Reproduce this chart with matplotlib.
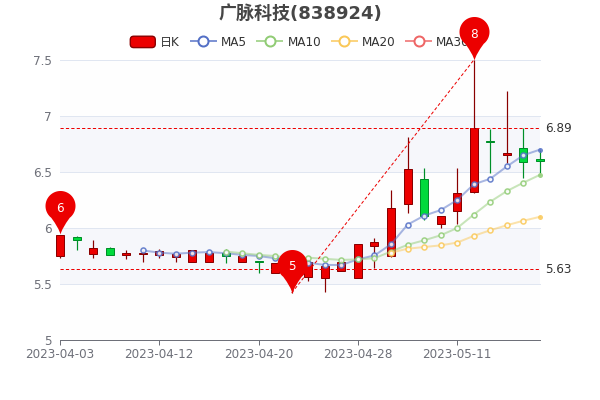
import numpy as np
import matplotlib
matplotlib.use("Agg")
import matplotlib.pyplot as plt
from matplotlib.lines import Line2D
from matplotlib.patches import Patch, FancyBboxPatch
from matplotlib.path import Path
from matplotlib.legend_handler import HandlerPatch

FONT = ['DejaVu Sans', 'Noto Sans CJK SC']
plt.rcParams['font.family'] = FONT

title = "广脉科技(838924)"
dates = ["2023-04-03", "2023-04-04", "2023-04-06", "2023-04-07", "2023-04-10", "2023-04-11",
         "2023-04-12", "2023-04-13", "2023-04-14", "2023-04-17", "2023-04-18", "2023-04-19",
         "2023-04-20", "2023-04-21", "2023-04-24", "2023-04-25", "2023-04-26", "2023-04-27",
         "2023-04-28", "2023-05-04", "2023-05-05", "2023-05-08", "2023-05-09", "2023-05-10",
         "2023-05-11", "2023-05-12", "2023-05-15", "2023-05-16", "2023-05-17", "2023-05-18"]
tick_idx = [0, 6, 12, 18, 24]
y_ticks = [5, 5.5, 6, 6.5, 7, 7.5]
y_labels = ["5", "5.5", "6", "6.5", "7", "7.5"]

opens = [5.75, 5.92, 5.77, 5.825, 5.755, 5.77, 5.755, 5.74, 5.70, 5.70,
         5.775, 5.70, 5.705, 5.60, 5.62, 5.56, 5.55, 5.62, 5.55, 5.84,
         5.75, 6.21, 6.44, 6.04, 6.15, 6.32, 6.78, 6.655, 6.71, 6.62]
closes = [5.94, 5.89, 5.82, 5.76, 5.775, 5.78, 5.795, 5.77, 5.80, 5.78,
          5.75, 5.75, 5.70, 5.69, 5.68, 5.70, 5.66, 5.70, 5.855, 5.875,
          6.18, 6.53, 6.11, 6.11, 6.31, 6.89, 6.77, 6.67, 6.59, 6.60]
lows = [5.73, 5.80, 5.73, 5.76, 5.72, 5.70, 5.73, 5.70, 5.70, 5.70,
        5.69, 5.70, 5.60, 5.60, 5.42, 5.53, 5.43, 5.62, 5.55, 5.64,
        5.74, 6.13, 6.07, 6.00, 6.04, 6.31, 6.49, 6.58, 6.45, 6.49]
highs = [5.94, 5.93, 5.89, 5.83, 5.80, 5.80, 5.81, 5.79, 5.80, 5.78,
         5.81, 5.77, 5.705, 5.69, 5.70, 5.72, 5.67, 5.71, 5.86, 5.91,
         6.34, 6.81, 6.54, 6.11, 6.54, 7.50, 6.88, 7.22, 6.89, 6.70]

ma5 = [None] * 5 + [5.80, 5.78, 5.77, 5.78, 5.785, 5.775, 5.76, 5.75, 5.73, 5.70,
                    5.69, 5.67, 5.67, 5.72, 5.755, 5.855, 6.03, 6.11, 6.16, 6.25,
                    6.39, 6.44, 6.55, 6.65, 6.70]
ma10 = [None] * 10 + [5.79, 5.775, 5.76, 5.75, 5.73, 5.735, 5.725, 5.715, 5.72, 5.73,
                      5.79, 5.85, 5.89, 5.935, 6.00, 6.12, 6.235, 6.33, 6.405, 6.475]
ma20 = [None] * 20 + [5.78, 5.815, 5.83, 5.845, 5.87, 5.93, 5.98, 6.025, 6.065, 6.10]
ma_names = ["MA5", "MA10", "MA20", "MA30"]
ma_colors = ["#5470C6", "#91CC75", "#FAC858", "#EE6666"]

pin_idx = [0, 14, 25]
pin_vals = [5.945, 5.42, 7.5]
pin_text = ["6", "5", "8"]
ref_vals = [6.89, 5.63]

UP, UP_E, DN, DN_E = "#EC0000", "#8A0000", "#00DA3C", "#008F28"
AXC = "#6E7079"
PX = 72 / 100


def px(v):
    return v * PX


fig = plt.figure(figsize=(6, 4), dpi=100, facecolor="white")
ax = fig.add_axes([60 / 600, 60 / 400, 480 / 600, 280 / 400])
x = np.arange(len(dates))
ax.set_xlim(0, len(dates) - 1)
ax.set_ylim(5, 7.5)

# split areas and split lines
for i in range(len(y_ticks) - 1):
    c = (210 / 255, 219 / 255, 238 / 255, 0.2) if i % 2 else (250 / 255, 250 / 255, 250 / 255, 0.2)
    ax.axhspan(y_ticks[i], y_ticks[i + 1], color=c, lw=0, zorder=0)
for v in y_ticks[1:]:
    ax.axhline(v, color="#E0E6F1", lw=px(1), zorder=1, clip_on=False)

# candles
o, c_, l, h = map(np.array, (opens, closes, lows, highs))
up = c_ >= o
fill = [UP if u else DN for u in up]
edge = [UP_E if u else DN_E for u in up]
ax.vlines(x, l, h, colors=edge, lw=px(1.2), zorder=3, clip_on=False)
ax.bar(x, np.abs(c_ - o), bottom=np.minimum(o, c_), width=0.485, color=fill,
       edgecolor=edge, linewidth=px(1), zorder=4, clip_on=False)

# moving averages
for vals, col in zip((ma5, ma10, ma20), ma_colors):
    y = np.array([np.nan if v is None else v for v in vals], dtype=float)
    rgba = matplotlib.colors.to_rgba(col, 0.5)
    ax.plot(x, y, color=rgba, lw=px(2), zorder=5, solid_capstyle="round", clip_on=False)
    ax.plot(x[:-1], y[:-1], ls="none", marker="o", ms=px(5), mfc="white", mec=col, mew=px(1.6),
            alpha=0.85, zorder=6, clip_on=False)
    ax.plot(x[-1:], y[-1:], ls="none", marker="o", ms=px(5), mfc=col, mec="none",
            alpha=0.85, zorder=6, clip_on=False)

# reference lines
dash = (0, (3.2, 2.2))
for v in ref_vals:
    ax.axhline(v, color=UP, lw=px(1), ls=dash, zorder=7)
    ax.annotate(f"{v:.2f}", (1, v), xycoords=("axes fraction", "data"), xytext=(px(5), 0),
                textcoords="offset points", va="center", ha="left", fontsize=px(12), color="#333333")
ax.plot([pin_idx[1], pin_idx[2]], [pin_vals[1], pin_vals[2]], color=UP, lw=px(1), ls=dash,
        zorder=7, clip_on=False)

# pin markers
R, CY, TOP = 15.0, 28.5, 43.5
theta = np.linspace(np.radians(-52), np.radians(232), 50)
arc = np.c_[R * np.cos(theta), CY + R * np.sin(theta)]
verts = [(0, 0), (1.6, 6.5), arc[0]] + [tuple(p) for p in arc[1:]] + [(-1.6, 6.5), (0, 0), (0, 0)]
codes = [Path.MOVETO, Path.CURVE3, Path.CURVE3] + [Path.LINETO] * (len(arc) - 1) + [Path.CURVE3, Path.CURVE3, Path.CLOSEPOLY]
pin = Path(verts, codes)
ax.plot(pin_idx, pin_vals, ls="none", marker=pin, ms=px(2 * TOP), mfc=UP, mec="none",
        zorder=10, clip_on=False)
for i, v, t in zip(pin_idx, pin_vals, pin_text):
    ax.annotate(t, (i, v), xytext=(0, px(26)), textcoords="offset points", ha="center",
                va="center", color="white", fontsize=px(12), zorder=11, annotation_clip=False)

# axes
for s in ("top", "right", "left"):
    ax.spines[s].set_visible(False)
ax.spines["bottom"].set_color(AXC)
ax.spines["bottom"].set_linewidth(px(1))
ax.spines["bottom"].set_zorder(8)
ax.set_xticks(tick_idx, [dates[i] for i in tick_idx])
ax.set_yticks(y_ticks, y_labels)
ax.tick_params(axis="x", length=px(5), width=px(1), color=AXC, labelcolor=AXC,
               labelsize=px(12), pad=px(3))
ax.tick_params(axis="y", length=0, labelcolor=AXC, labelsize=px(12), pad=px(8))

fig.text(0.5, 1 - 14 / 400, title, ha="center", va="center", fontsize=px(18),
         fontweight="bold", color="#464646")


# legend
def rounded(legend, orig_handle, xdescent, ydescent, width, height, fontsize):
    return FancyBboxPatch((-xdescent, -ydescent), width, height,
                          boxstyle="round,pad=0,rounding_size=2.5",
                          fc=UP, ec=UP_E, lw=px(1.5))


handles = [Patch(fc=UP, ec=UP_E)]
for col in ma_colors:
    handles.append(Line2D([], [], color=matplotlib.colors.to_rgba(col, 0.75), lw=px(2), marker="o",
                          ms=px(10), mfc="white", mec=col, mew=px(2)))
fs = px(12)
leg = fig.legend(handles, ["日K"] + ma_names, loc="center", bbox_to_anchor=(0.5, 1 - 42.5 / 400),
                 ncols=5, frameon=False, fontsize=fs, handlelength=18 / fs,
                 handleheight=px(13) / fs, handletextpad=3.6 / fs,
                 columnspacing=px(10.7) / fs, borderpad=0, borderaxespad=0,
                 labelcolor="#333333", handler_map={Patch: HandlerPatch(patch_func=rounded)})
leg.set_zorder(2)
ax.set_zorder(3)
ax.patch.set_alpha(0)

fig.savefig("out.png", dpi=100, facecolor="white")
